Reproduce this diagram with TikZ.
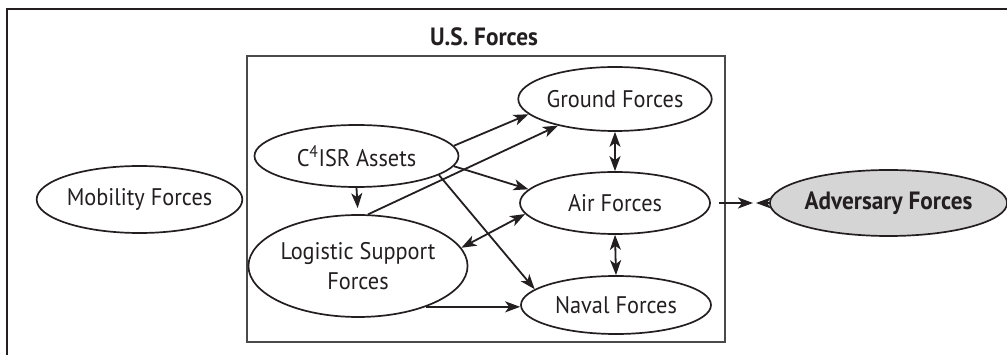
\documentclass[tikz,border=0pt]{standalone}
\usepackage{fontspec}
\setmainfont[FakeStretch=0.93]{PT Sans}
\usepackage{tikz}
\usetikzlibrary{arrows.meta}
\usetikzlibrary{shapes.geometric}
\definecolor{ink}{HTML}{231F20}
\definecolor{boxline}{HTML}{4A4A4A}
\definecolor{enemyfill}{HTML}{D5D5D5}

\begin{document}
\begin{tikzpicture}[x=1pt,y=-1pt,
   force/.style={ellipse,draw=ink,line width=1.7pt,inner sep=0pt,text=ink,
      font=\fontsize{24}{30}\selectfont,align=center},
   enemy/.style={force,fill=enemyfill,font=\fontsize{25}{30}\selectfont\bfseries},
   link/.style={ink,line width=1.8pt,-{Stealth[length=15pt,width=11pt,inset=4pt]}},
   twoway/.style={ink,line width=1.8pt,{Stealth[length=15pt,width=11pt,inset=4pt]}-{Stealth[length=15pt,width=11pt,inset=4pt]}}]
\useasboundingbox (0,0) rectangle (1007,355);
\draw[ink,line width=2.2pt] (7,360) -- (7,9) -- (1010,9);
\draw[boxline,line width=1.3pt] (247,56) rectangle (725,342);
\node[anchor=base,text=ink,font=\fontsize{25}{30}\selectfont\bfseries] (title) at (484,45.5) {U.S. Forces};
\node[force,minimum width=199pt,minimum height=67pt] (mobility) at (139.5,199.5) {Mobility Forces};
\node[force,minimum width=204pt,minimum height=62pt] (c4isr) at (356.5,156) {C\textsuperscript{4}ISR Assets};
\node[force,minimum width=204pt,minimum height=102pt] (logistic) at (358,266) {Logistic Support\\Forces};
\node[force,minimum width=190pt,minimum height=64pt] (ground) at (615,99) {Ground Forces};
\node[force,minimum width=190pt,minimum height=62pt] (air) at (615,203) {Air Forces};
\node[force,minimum width=190pt,minimum height=58pt] (naval) at (616,305) {Naval Forces};
\node[enemy,minimum width=199pt,minimum height=66pt] (adversary) at (888.5,203) {Adversary Forces};
\coordinate (meet) at (754.5,203);
\draw[link] (c4isr.6) -- (ground.190);
\draw[link] (logistic.79) -- (ground.205);
\draw[link] (c4isr.-6) -- (air.171);
\draw[link] (c4isr.-13) -- (naval.169);
\draw[link,shorten >=6pt] (c4isr.south) -- (logistic.north);
\draw[twoway] (ground.south) -- (air.north);
\draw[twoway] (air.south) -- (naval.north);
\draw[twoway] (logistic.10) -- (air.187);
\draw[link] (logistic.-31) -- (logistic.-31 -| naval.west);
\draw[link,shorten <=8pt,shorten >=1.5pt] (air.east) -- (meet);
\draw[link,shorten >=1.5pt] (adversary.west) -- (meet);
\end{tikzpicture}
\end{document}
